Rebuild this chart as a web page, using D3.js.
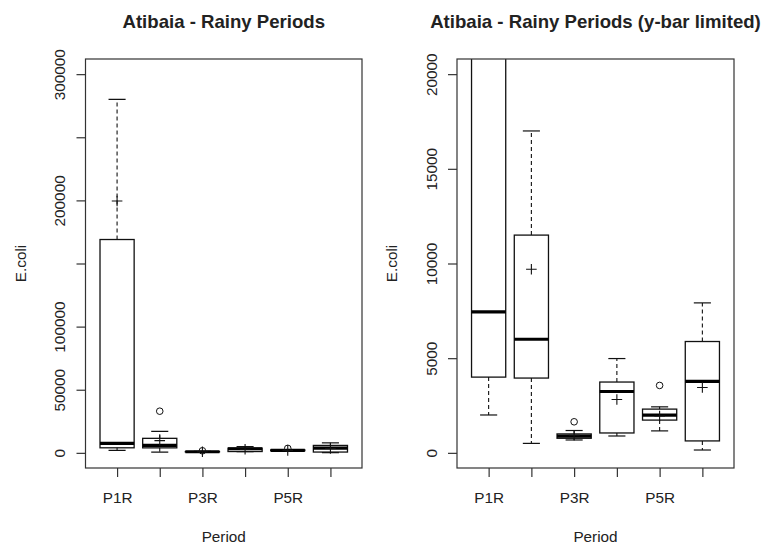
<!DOCTYPE html>
<html>
<head>
<meta charset="utf-8">
<script src="https://cdn.jsdelivr.net/npm/d3@7"></script>
<style>
  body { margin: 0; background: #fff; }
  text { font-family: "Liberation Sans", Arial, sans-serif; fill: #222; }
</style>
</head>
<body>
<div id="chart"></div>
<script>
// data (same data, second panel has ylim 0..20000)
var categories = ["P1R", "P2R", "P3R", "P4R", "P5R", "P6R"];
var whiskerLow = [2000, 500, 680, 890, 1160, 150];
var q1 = [4000, 3950, 770, 1050, 1730, 630];
var medians = [7450, 6000, 880, 3240, 1990, 3780];
var q3 = [169000, 11500, 1000, 3740, 2310, 5880];
var whiskerHigh = [280000, 17000, 1180, 4980, 2430, 7920];
var means = [199500, 9700, 930, 2820, 1950, 3450];
var outlierCat = ["P2R", "P3R", "P5R"];
var outlierVal = [33000, 1640, 3560];

// R drops x labels that would overlap, so only every other one shows
var xTickLabels = ["P1R", "", "P3R", "", "P5R", ""];
var leftTicks = [0, 50000, 100000, 150000, 200000, 250000, 300000];
var leftTickLabels = ["0", "50000", "100000", "", "200000", "", "300000"];
var rightTicks = [0, 5000, 10000, 15000, 20000];
var rightTickLabels = ["0", "5000", "10000", "15000", "20000"];

var svgWidth = 775;
var svgHeight = 544;
var plotTop = 59, plotBottom = 468;

var svg = d3.select("#chart")
  .append("svg")
  .attr("width", svgWidth)
  .attr("height", svgHeight);

var boxes = categories.map(function(c, i) {
  return {
    cat: c, idx: i + 1,
    lo: whiskerLow[i], q1: q1[i], med: medians[i], q3: q3[i], hi: whiskerHigh[i],
    mean: means[i]
  };
});
var outliers = outlierCat.map(function(c, i) {
  return { idx: categories.indexOf(c) + 1, v: outlierVal[i] };
});

var panels = [
  { id: "p1", left: 85.5, right: 362, ylim: [0, 300000],
    title: "Atibaia - Rainy Periods", ticks: leftTicks, labels: leftTickLabels },
  { id: "p2", left: 457, right: 734, ylim: [0, 20000],
    title: "Atibaia - Rainy Periods (y-bar limited)", ticks: rightTicks, labels: rightTickLabels }
];

panels.forEach(drawPanel);

function drawPanel(p) {
  // R pads axis limits by 4% on each side
  var pad = (p.ylim[1] - p.ylim[0]) * 0.04;
  var y = d3.scaleLinear()
    .domain([p.ylim[0] - pad, p.ylim[1] + pad])
    .range([plotBottom, plotTop]);
  var x = d3.scaleLinear()
    .domain([0.5 - 0.24, categories.length + 0.5 + 0.24])
    .range([p.left, p.right]);
  var bw = (x(1.4) - x(0.6));

  var g = svg.append("g");

  g.append("clipPath").attr("id", "clip-" + p.id)
    .append("rect")
    .attr("x", p.left).attr("y", plotTop)
    .attr("width", p.right - p.left).attr("height", plotBottom - plotTop);

  var plot = g.append("g").attr("clip-path", "url(#clip-" + p.id + ")");

  var bx = plot.selectAll("g.box")
    .data(boxes)
    .enter()
    .append("g")
    .attr("class", "box");

  // dashed whiskers
  bx.append("line")
    .attr("x1", d => x(d.idx)).attr("x2", d => x(d.idx))
    .attr("y1", d => y(d.q3)).attr("y2", d => y(d.hi))
    .attr("stroke", "#111").attr("stroke-width", 1.1)
    .attr("stroke-dasharray", "4,3");
  bx.append("line")
    .attr("x1", d => x(d.idx)).attr("x2", d => x(d.idx))
    .attr("y1", d => y(d.q1)).attr("y2", d => y(d.lo))
    .attr("stroke", "#111").attr("stroke-width", 1.1)
    .attr("stroke-dasharray", "4,3");
  // staples
  ["hi", "lo"].forEach(function(k) {
    bx.append("line")
      .attr("x1", d => x(d.idx) - bw / 4).attr("x2", d => x(d.idx) + bw / 4)
      .attr("y1", d => y(d[k])).attr("y2", d => y(d[k]))
      .attr("stroke", "#111").attr("stroke-width", 1.2);
  });
  // box
  bx.append("rect")
    .attr("x", d => x(d.idx) - bw / 2)
    .attr("y", d => y(d.q3))
    .attr("width", bw)
    .attr("height", d => y(d.q1) - y(d.q3))
    .attr("fill", "none")
    .attr("stroke", "#111").attr("stroke-width", 1.3);
  // median
  bx.append("line")
    .attr("x1", d => x(d.idx) - bw / 2).attr("x2", d => x(d.idx) + bw / 2)
    .attr("y1", d => y(d.med)).attr("y2", d => y(d.med))
    .attr("stroke", "#000").attr("stroke-width", 3.2);
  // mean "+"
  bx.append("path")
    .attr("d", d => {
      var cx = x(d.idx), cy = y(d.mean), s = 5.3;
      return "M" + (cx - s) + "," + cy + "H" + (cx + s) + "M" + cx + "," + (cy - s) + "V" + (cy + s);
    })
    .attr("stroke", "#111").attr("stroke-width", 1.1).attr("fill", "none");

  // outliers
  plot.selectAll("circle")
    .data(outliers)
    .enter()
    .append("circle")
    .attr("cx", d => x(d.idx))
    .attr("cy", d => y(d.v))
    .attr("r", 3.3)
    .attr("fill", "none")
    .attr("stroke", "#111").attr("stroke-width", 1);

  // frame
  g.append("rect")
    .attr("x", p.left).attr("y", plotTop)
    .attr("width", p.right - p.left).attr("height", plotBottom - plotTop)
    .attr("fill", "none").attr("stroke", "#333").attr("stroke-width", 1.2);

  // y axis
  var leftAxis = d3.axisLeft(y)
    .tickValues(p.ticks)
    .tickSize(9)
    .tickFormat((d, i) => p.labels[i]);
  var ya = g.append("g")
    .attr("transform", `translate(${p.left}, 0)`)
    .call(leftAxis);
  ya.select(".domain").remove();
  ya.selectAll("line").attr("stroke", "#333").attr("stroke-width", 1.2);
  ya.selectAll("text")
    .attr("transform", "rotate(-90)")
    .attr("x", 0).attr("y", -20.5).attr("dy", 0)
    .attr("text-anchor", "middle")
    .style("font-size", "15.3px")
    .style("font-family", "'Liberation Sans', Arial, sans-serif")
    .attr("fill", "#222");

  // x axis
  var bottomAxis = d3.axisBottom(x)
    .tickValues(d3.range(1, categories.length + 1))
    .tickSize(9)
    .tickFormat((d, i) => xTickLabels[i]);
  var xa = g.append("g")
    .attr("transform", `translate(0, ${plotBottom})`)
    .call(bottomAxis);
  xa.select(".domain").remove();
  xa.selectAll("line").attr("stroke", "#333").attr("stroke-width", 1.2);
  xa.selectAll("text")
    .attr("y", 34.5).attr("dy", 0)
    .style("font-size", "15.3px")
    .style("font-family", "'Liberation Sans', Arial, sans-serif")
    .attr("fill", "#222");

  var cx = (p.left + p.right) / 2;

  // title
  g.append("text")
    .attr("x", cx).attr("y", 27.7)
    .attr("text-anchor", "middle")
    .style("font-size", "18.6px")
    .style("font-weight", "bold")
    .text(p.title);

  // axis titles
  g.append("text")
    .attr("x", cx).attr("y", 541.5)
    .attr("text-anchor", "middle")
    .style("font-size", "15.3px")
    .text("Period");

  g.append("text")
    .attr("transform", `translate(${p.left - 60}, ${(plotTop + plotBottom) / 2}) rotate(-90)`)
    .attr("text-anchor", "middle")
    .style("font-size", "15.3px")
    .text("E.coli");
}
</script>
</body>
</html>
